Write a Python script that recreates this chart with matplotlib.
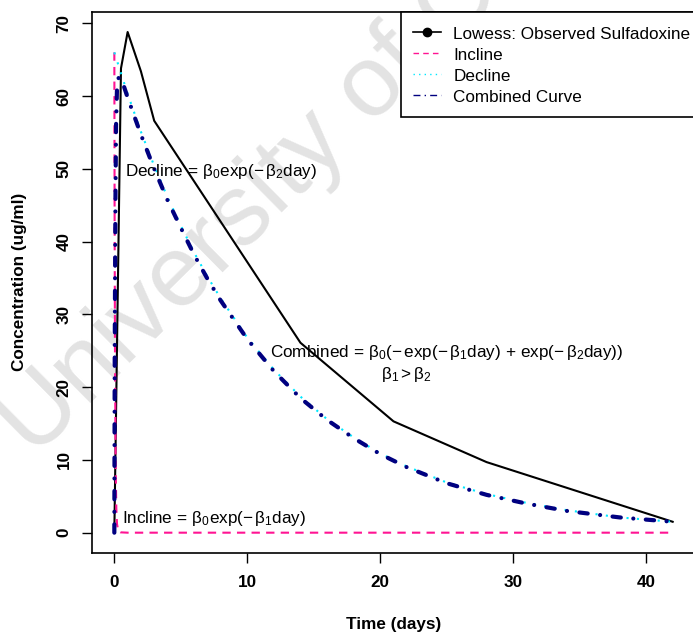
import numpy as np
import matplotlib
matplotlib.use('Agg')
import matplotlib.pyplot as plt

plt.rcParams['font.family'] = ['Liberation Sans', 'DejaVu Sans']
plt.rcParams['mathtext.fontset'] = 'custom'
plt.rcParams['mathtext.rm'] = 'Liberation Sans'
plt.rcParams['mathtext.it'] = 'Liberation Sans'
plt.rcParams['mathtext.default'] = 'regular'

# Lowess smoothed observed concentrations
lowess_day = [0, 0.5, 1, 2, 3, 14, 21, 28, 42]
lowess_conc = [0, 63.8, 68.8, 63.4, 56.6, 26.1, 15.3, 9.7, 1.5]

# Incline component
incline_day = [0, 0.02, 0.05, 0.1, 0.15, 0.2, 0.3, 0.45, 1, 42]
incline_conc = [66, 44, 24, 9, 3.3, 1.2, 0.2, 0.05, 0, 0]

# Decline component
decline_day = [0, 1, 2, 3, 4, 5, 6, 7, 8, 10, 12, 14, 16, 18, 20, 22, 25, 28, 31, 34, 38, 42]
decline_conc = [66.0, 60.3, 55.1, 50.4, 46.1, 42.2, 38.5, 35.2, 32.2, 26.8, 22.4, 18.7,
                15.6, 13.1, 10.9, 9.1, 6.9, 5.3, 4.1, 3.1, 2.1, 1.5]

# Combined curve
combined_day = [0, 0.03, 0.08, 0.13, 0.2, 0.33, 0.6, 1, 2, 3, 4, 5, 6, 7, 8, 10, 12, 14,
                16, 18, 20, 22, 25, 28, 31, 34, 38, 42]
combined_conc = [0, 25, 45, 56, 61, 62.6, 62.0, 59.8, 54.7, 50.0, 45.7, 41.9, 38.2, 34.9,
                 31.9, 26.6, 22.2, 18.5, 15.5, 13.0, 10.8, 9.0, 6.8, 5.2, 4.0, 3.0, 2.1, 1.5]

legend_labels = ['Lowess: Observed Sulfadoxine', 'Incline', 'Decline', 'Combined Curve']

fs = 12.3
fig = plt.figure(figsize=(6.93, 6.37), dpi=100)
fig.patch.set_facecolor('white')

# watermark behind everything
fig.text(0.05, 0.28, 'University of Cape Town', rotation=44.7, rotation_mode='anchor',
         ha='left', va='baseline', fontsize=73, color='#e3e3e3', zorder=-5)

ax = fig.add_axes([92/693, (637-552.7)/637, 603/693, 540.7/637])
ax.patch.set_alpha(0)

ax.plot(lowess_day, lowess_conc, color='black', lw=1.5)
ax.plot(incline_day, incline_conc, color='#FF1493', lw=1.5, dashes=(4, 3))
ax.plot(decline_day, decline_conc, color='#00E8FF', lw=1.5, dashes=(1, 4))
ax.plot(combined_day, combined_conc, color='#000080', lw=3, dashes=(2.0, 3.0, 0.01, 3.0),
        dash_capstyle='round')

ax.set_xlim(-1.68, 43.68)
ax.set_ylim(-2.75, 71.55)
ax.set_xticks([0, 10, 20, 30, 40])
ax.set_yticks([0, 10, 20, 30, 40, 50, 60, 70])
ax.tick_params(direction='out', length=7.2, width=1, labelsize=fs)
ax.tick_params(axis='x', pad=8.5)
ax.tick_params(axis='y', pad=7.5)
for lab in ax.get_xticklabels() + ax.get_yticklabels():
    lab.set_fontweight('bold')
for lab in ax.get_yticklabels():
    lab.set_rotation(90)
    lab.set_va('center')
for sp in ax.spines.values():
    sp.set_linewidth(1.2)

ax.set_xlabel('Time (days)', fontsize=fs, fontweight='bold')
ax.set_ylabel('Concentration (ug/ml)', fontsize=fs, fontweight='bold')
ax.xaxis.set_label_coords(0.5, -0.132)
ax.yaxis.set_label_coords(-0.121, 0.5)
ax.xaxis.label.set_va('center')
ax.yaxis.label.set_va('center')

# model annotations
ax.text(0.8, 49.7, r'Decline$\,=\,\beta_0$exp$(-\,\beta_2$day$)$', fontsize=fs, va='center', ha='left')
ax.text(11.7, 24.8, r'Combined$\,=\,\beta_0(-\,$exp$(-\,\beta_1$day$)\,+\,$exp$(-\,\beta_2$day$))$',
        fontsize=fs, va='center', ha='left')
ax.text(22.0, 21.8, r'$\beta_1 > \beta_2$', fontsize=fs, va='center', ha='center')
ax.text(0.6, 1.9, r'Incline$\,=\,\beta_0$exp$(-\,\beta_1$day$)$', fontsize=fs, va='center', ha='left')

# legend (handles drawn thin like the original)
h1, = ax.plot([], [], color='black', lw=1.2, marker='o', markersize=6)
h2, = ax.plot([], [], color='#FF1493', lw=1, dashes=(4, 3))
h3, = ax.plot([], [], color='#00E8FF', lw=1, dashes=(1, 3))
h4, = ax.plot([], [], color='#000080', lw=1, dashes=(5, 3, 1, 3))
leg = ax.legend([h1, h2, h3, h4], legend_labels, loc='upper left',
                bbox_to_anchor=((401 - 92) / 603, 1.0), borderaxespad=0, fontsize=fs,
                frameon=True, fancybox=False, framealpha=1, edgecolor='black',
                handlelength=1.6, handleheight=1.2, handletextpad=0.75,
                borderpad=0.72, labelspacing=0.21)
leg.get_frame().set_linewidth(1.2)

fig.savefig('out.png', dpi=100)
